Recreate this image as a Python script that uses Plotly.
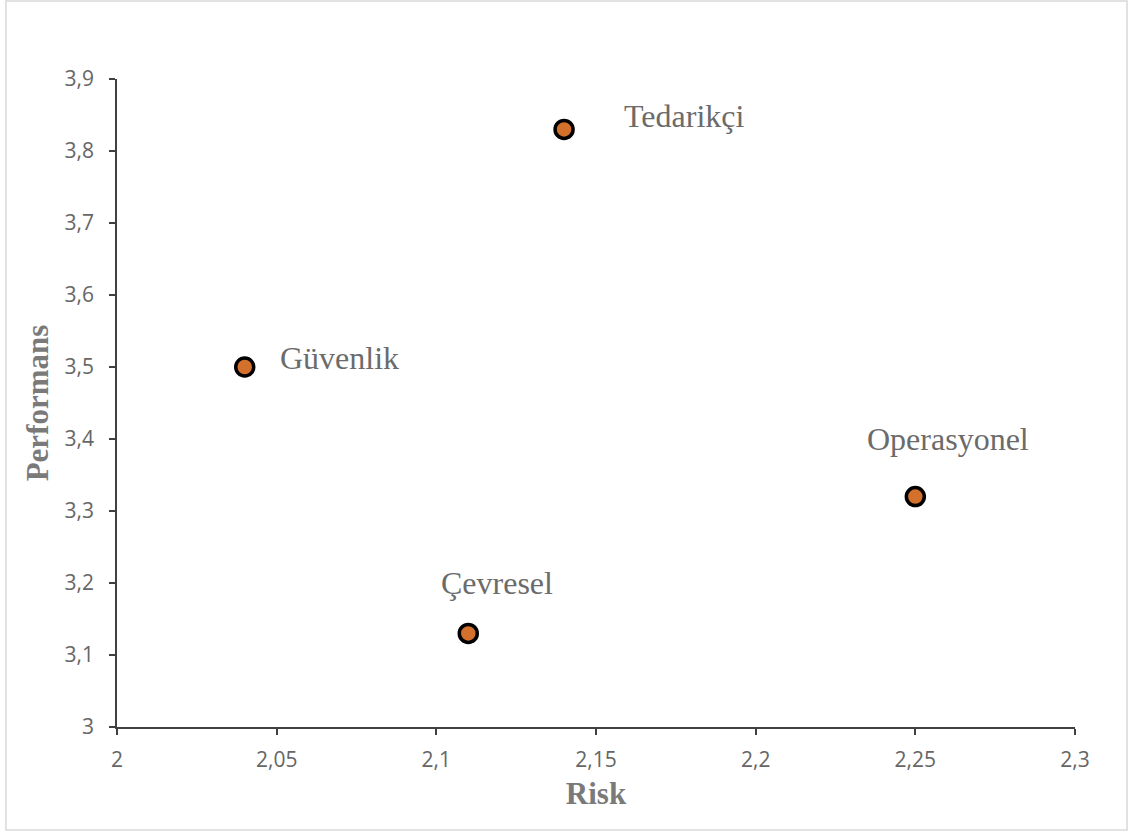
import plotly.graph_objects as go

# Risk / performance scores per category
categories = ["Güvenlik", "Tedarikçi", "Çevresel", "Operasyonel"]
risk = [2.04, 2.14, 2.11, 2.25]
performans = [3.50, 3.83, 3.13, 3.32]

x_ticks = [2, 2.05, 2.1, 2.15, 2.2, 2.25, 2.3]
x_tick_labels = ["2", "2,05", "2,1", "2,15", "2,2", "2,25", "2,3"]
y_ticks = [3, 3.1, 3.2, 3.3, 3.4, 3.5, 3.6, 3.7, 3.8, 3.9]
y_tick_labels = ["3", "3,1", "3,2", "3,3", "3,4", "3,5", "3,6", "3,7", "3,8", "3,9"]

# label placement (pixel offsets from each marker)
label_offsets = {
    "Güvenlik": (33, 9, "left"),
    "Tedarikçi": (58, 13, "left"),
    "Çevresel": (29, 50, "center"),
    "Operasyonel": (33, 58, "center"),
}

fig = go.Figure()
fig.add_trace(go.Scatter(
    x=risk, y=performans, mode="markers",
    marker=dict(size=18, color="#D2702C", line=dict(color="#000000", width=3.5)),
    hoverinfo="skip", showlegend=False,
))

for name, xv, yv in zip(categories, risk, performans):
    dx, dy, anchor = label_offsets[name]
    fig.add_annotation(
        x=xv, y=yv, text=name, showarrow=False,
        xshift=dx, yshift=dy, xanchor=anchor, yanchor="middle",
        font=dict(family="Liberation Serif", size=32, color="#6B6B6B"),
    )

axis_common = dict(
    showgrid=False, zeroline=False, showline=True, linecolor="#404040", linewidth=1.5,
    ticks="outside", ticklen=6, tickwidth=1.5, tickcolor="#404040",
    tickfont=dict(family="Open Sans", size=21, color="#666666"),
)

fig.update_xaxes(
    range=[2, 2.3], tickvals=x_ticks, ticktext=x_tick_labels, ticklabelstandoff=7,
    title=dict(text="<b>Risk</b>", font=dict(family="Liberation Serif", size=31, color="#7A7A7A"), standoff=10),
    **axis_common,
)
fig.update_yaxes(
    range=[3, 3.9], tickvals=y_ticks, ticktext=y_tick_labels, ticklabelstandoff=11,
    title=dict(text="<b>Performans</b>", font=dict(family="Liberation Serif", size=31, color="#7A7A7A"), standoff=7),
    **axis_common,
)

# outer chart border
fig.add_shape(
    type="rect", xref="paper", yref="paper",
    x0=-0.1159, x1=1.0543, y0=-0.159, y1=1.1204,
    line=dict(color="#D9D9D9", width=1.5), layer="below",
)

fig.update_layout(
    width=1132, height=834,
    margin=dict(l=117, r=57, t=79, b=107),
    plot_bgcolor="white", paper_bgcolor="white",
)

fig.write_html("out.html")
